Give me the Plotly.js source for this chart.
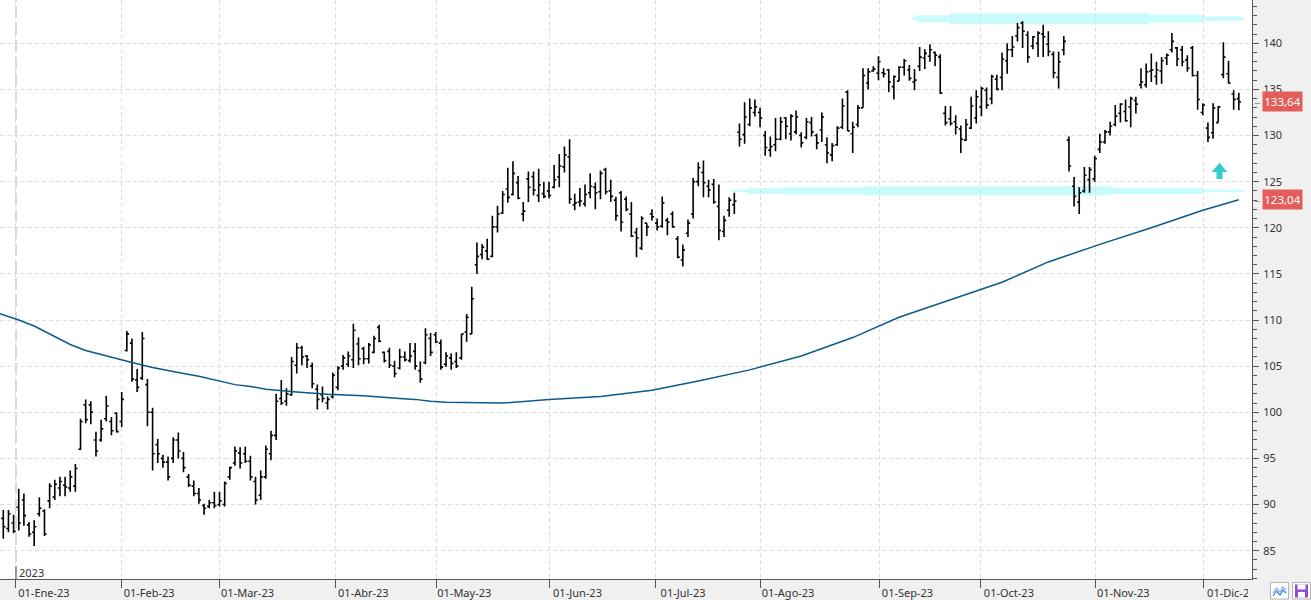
<!DOCTYPE html>
<html><head><meta charset="utf-8">
<script src="https://cdn.plot.ly/plotly-3.0.1.min.js"></script>
<style>html,body{margin:0;padding:0;background:#f0f0f0;overflow:hidden}#chart{width:1311px;height:600px}</style>
</head><body><div id="chart"></div>
<script>
// Daily bars (index 0 = 28-Dic-22 ... index 240 = 12-Dic-23)
const openP = [88.5,87.4,88.0,89.7,90.5,87.8,87.0,89.0,89.3,90.4,90.8,91.8,92.1,91.8,92.0,96.0,100.8,100.8,97.0,97.0,99.3,99.0,99.9,99.0,106.7,107.5,103.5,103.7,103.0,100.0,
96.5,95.0,94.6,95.0,97.0,95.0,93.0,92.0,91.2,89.9,89.8,90.2,90.0,90.0,93.0,94.5,95.6,95.5,94.7,92.5,91.0,93.0,95.5,97.5,101.5,101.2,101.9,105.1,107.0,106.1,
105.0,102.5,101.9,101.0,101.7,102.7,105.0,105.2,105.7,107.4,106.9,105.8,106.5,109.2,106.5,106.6,105.0,104.8,106.0,105.6,106.6,104.5,105.4,108.0,108.4,107.5,105.2,105.9,105.5,105.9,
108.7,108.5,116.0,117.1,117.5,116.9,120.1,121.6,124.2,123.6,124.9,121.5,125.3,125.55,123.5,123.7,124.0,124.4,125.5,126.6,127.7,122.5,122.8,122.6,123.8,124.4,123.9,126.3,124.0,123.0,
123.8,123.1,121.5,119.5,117.8,120.5,121.5,120.5,120.2,120.8,121.5,118.8,116.5,119.4,121.5,125.0,126.0,124.5,124.7,122.3,119.6,121.9,122.5,130.35,130.1,131.2,132.5,132.5,130.0,128.4,
129.0,129.6,131.9,130.2,130.4,130.0,129.8,131.4,130.0,130.6,129.0,127.9,129.0,130.9,134.7,130.2,131.2,133.0,135.7,137.0,136.75,136.8,137.1,135.3,135.9,137.4,137.1,135.8,137.5,138.4,
138.6,139.0,138.5,132.4,131.8,131.5,130.7,129.5,130.8,131.9,133.1,134.9,134.0,136.1,136.3,138.1,139.3,140.8,142.2,140.9,139.7,140.0,141.0,139.9,138.8,136.3,139.3,129.5,124.5,122.8,
124.0,125.2,125.3,128.5,129.3,130.4,131.2,132.4,132.6,133.1,133.8,135.5,135.5,137.0,136.4,137.0,138.4,139.3,139.5,139.3,138.2,139.5,136.5,132.5,130.8,130.3,131.4,136.6,136.7,134.5,
134.0];
const highP = [89.4,89.4,88.9,91.7,91.2,88.1,88.3,90.8,89.5,92.3,92.7,93.0,93.0,93.7,94.4,99.3,101.4,101.2,97.9,99.2,101.8,99.5,100.0,102.2,108.8,108.0,104.7,108.7,103.6,100.5,
97.1,95.4,95.2,97.3,97.8,95.7,93.3,92.6,91.8,90.1,90.5,91.4,91.4,92.5,94.1,96.3,96.2,96.3,95.3,93.0,93.7,96.4,98.0,102.0,103.5,102.6,106.0,107.5,107.2,106.2,
105.4,103.0,102.8,101.7,104.3,105.0,106.2,106.6,109.6,108.1,107.1,107.5,108.3,109.5,106.6,107.0,105.6,106.9,106.6,107.5,107.5,105.5,109.1,108.6,108.7,107.9,106.5,106.4,106.5,108.5,
110.65,113.6,118.4,118.25,118.8,121.3,122.4,124.0,126.5,127.2,125.6,122.8,126.1,126.1,126.4,125.0,125.0,126.8,128.0,128.8,129.6,123.7,124.3,124.7,125.9,124.9,126.2,126.5,125.2,123.35,
124.0,123.4,122.8,120.0,121.25,120.5,122.0,121.0,123.4,121.1,121.8,119.1,118.2,120.9,125.4,127.1,127.3,125.2,125.3,124.7,121.3,123.3,123.8,131.3,133.6,134.0,133.9,133.0,130.5,129.9,
131.9,132.0,132.0,132.3,132.7,130.35,131.9,132.0,130.2,132.5,129.8,129.2,131.0,134.0,134.9,131.5,133.3,137.3,137.3,137.5,138.6,137.3,137.2,136.5,137.5,138.3,137.65,137.2,139.6,139.35,
139.9,139.1,138.8,133.2,133.2,132.2,131.1,131.8,134.2,134.9,135.3,135.2,136.6,136.6,139.0,140.0,140.8,142.2,142.4,141.3,140.8,141.3,142.0,141.3,139.1,139.1,140.8,129.9,125.5,124.4,
126.6,126.6,127.8,130.2,130.6,131.5,133.3,133.5,133.9,134.2,134.2,137.3,137.8,138.9,138.0,138.5,138.9,141.1,139.6,139.7,138.7,139.7,137.0,133.5,131.4,133.5,133.2,140.1,138.1,134.9,
134.65];
const lowP = [86.3,87.0,86.9,87.2,87.7,86.5,85.5,88.7,86.6,89.6,90.5,90.9,90.9,91.4,91.4,95.9,98.8,98.7,95.2,96.8,99.0,97.5,97.8,98.4,106.6,103.3,102.2,103.5,98.5,93.7,
94.5,94.0,92.6,94.5,95.0,93.5,91.9,90.9,90.1,88.9,89.6,89.6,89.8,89.8,92.7,94.2,93.9,94.5,92.6,90.0,90.5,92.8,94.8,97.0,100.8,100.7,101.8,104.2,105.1,104.8,
102.6,100.3,101.1,100.3,101.5,102.4,104.6,104.9,104.8,105.1,105.2,105.3,106.4,107.6,105.4,104.8,103.8,104.65,105.5,105.4,104.6,103.2,105.2,106.1,107.5,104.6,104.9,104.6,104.8,105.7,
107.65,108.5,115.0,116.6,116.5,116.8,119.5,121.5,122.7,123.5,123.1,120.7,122.8,123.5,122.8,123.2,123.2,124.25,124.4,126.0,122.6,121.9,122.3,122.3,123.2,122.0,123.1,123.6,122.8,120.75,
119.6,121.8,119.0,116.8,117.6,119.1,120.8,119.7,120.0,119.2,120.0,116.7,115.8,119.0,121.0,124.5,123.3,123.3,122.6,118.65,119.0,121.2,121.5,128.8,129.1,131.0,132.05,130.9,127.8,127.7,
128.3,129.5,129.6,129.45,130.1,128.7,129.6,129.9,128.5,129.3,127.0,127.2,128.9,130.7,130.5,128.1,130.9,133.0,135.0,136.9,136.0,136.3,134.7,133.9,135.9,136.5,135.95,134.9,137.0,137.2,
138.0,137.5,134.5,131.1,131.1,130.1,128.1,129.4,130.7,131.3,132.1,132.9,133.4,134.9,134.9,136.7,138.5,140.2,139.5,137.9,139.35,138.5,138.5,138.6,136.2,135.1,138.7,126.1,122.3,121.5,
123.8,123.8,125.0,128.1,129.1,130.0,131.0,131.4,131.5,130.9,132.4,135.1,135.2,135.8,135.5,135.6,137.65,139.0,137.5,137.5,136.9,136.4,132.8,132.2,129.3,129.65,131.4,136.2,135.6,132.8,
132.75];
const closeP = [87.6,89.0,87.1,88.0,88.8,86.8,87.6,89.6,86.8,92.0,92.2,92.5,91.9,93.0,93.9,99.0,99.2,100.0,95.8,98.2,100.7,98.0,97.9,101.4,108.5,103.6,102.7,108.0,100.0,95.5,
95.5,94.6,93.0,97.0,95.8,94.0,92.1,91.2,90.5,89.6,90.2,89.9,90.4,92.3,94.0,95.8,94.5,94.7,93.0,90.5,93.0,96.0,97.5,101.2,101.0,102.0,105.5,107.0,106.0,105.7,
103.1,101.4,101.5,101.4,104.0,104.8,105.9,106.1,108.9,105.8,105.8,107.3,108.0,107.7,105.6,105.1,104.2,106.0,105.7,106.1,105.0,103.6,108.4,106.5,107.65,104.9,106.1,105.3,105.0,108.5,
110.3,112.3,116.9,117.9,116.6,120.1,121.5,123.6,123.3,125.9,123.2,121.8,124.4,124.1,124.65,123.4,123.5,125.2,126.7,127.9,123.1,122.7,122.9,123.6,124.5,123.8,125.9,123.9,123.4,121.3,
120.6,122.0,119.1,118.9,121.0,120.1,121.2,120.1,122.7,120.6,120.1,116.8,117.6,120.5,125.0,126.5,124.9,124.1,122.8,119.7,120.8,123.0,122.9,129.6,132.0,133.0,133.1,131.9,128.7,128.8,
129.6,131.5,131.0,132.1,132.0,129.2,131.5,130.4,129.2,132.0,128.1,128.9,130.8,133.2,130.5,130.9,133.0,136.5,136.9,137.2,138.0,136.7,135.8,136.4,137.4,138.1,136.2,136.0,138.5,138.9,
139.3,138.7,134.6,131.4,131.3,130.9,129.6,131.2,133.2,134.2,135.1,133.3,136.4,135.0,138.3,139.3,139.6,141.7,141.3,138.5,140.7,141.1,140.7,139.1,136.8,138.0,140.2,126.7,123.4,123.8,
125.7,126.3,127.5,129.3,130.4,131.0,132.1,133.4,131.6,134.0,133.4,135.8,136.9,137.1,137.1,138.1,138.7,140.2,138.3,138.0,137.3,136.5,133.9,133.3,129.8,133.0,133.1,138.5,135.7,133.9,
133.64];
const barIdx = openP.map((_, i) => i);

// 200-session moving average (sampled by bar index)
const maIdx = [-1,3,6,10,13,16,19,22,25,29,32,35,38,42,45,48,51,57,63,70,74,77,80,83,86,90,93,97,106,116,126,135,145,155,165,174,184,194,203,213,223,233,240];
const maVal = [110.75,110.0,109.35,108.25,107.35,106.7,106.25,105.8,105.4,104.85,104.5,104.2,103.9,103.35,103.0,102.8,102.5,102.2,101.95,101.8,101.6,101.5,101.4,101.2,101.1,101.04,101.0,101.0,101.4,101.7,102.4,103.4,104.6,106.1,108.1,110.3,112.2,114.1,116.3,118.2,120.0,121.9,123.04];

// Month ticks (position in bar index) and labels
const monthTickIdx = [2.46,22.9,42.0,64.5,84.1,106.1,126.6,147.0,170.2,189.9,212.1,233.1];
const monthTickText = ['01-Ene-23','01-Feb-23','01-Mar-23','01-Abr-23','01-May-23','01-Jun-23','01-Jul-23','01-Ago-23','01-Sep-23','01-Oct-23','01-Nov-23','01-Dic-23'];
const yearLabel = '2023';
const lastCloseLabel = '133,64', lastClose = 133.64;
const lastMALabel = '123,04', lastMA = 123.04;
const resistanceLevel = 142.67, supportLevel = 124.0;

// ---- geometry helpers (layout only)
const PW = 1252, PH = 579;
const px = p => p / PW;             // pixel x -> paper
const py = p => (PH - p) / PH;      // pixel y -> paper

function bandPath(level, profile) {
  const top = profile.map(([x, h]) => `${x},${level + h}`);
  const bot = profile.slice().reverse().map(([x, h]) => `${x},${level - h}`);
  return 'M' + top.join('L') + 'L' + bot.join('L') + 'Z';
}
const topProfile = [[176.1,0],[177.7,0.3],[177.7,0.38],[183.9,0.38],[183.9,0.58],[222.7,0.58],[222.7,0.42],[233,0.42],[233,0.22],[240.2,0.22],[241.4,0]];
const botProfile = [[141,0],[142.1,0.16],[144.7,0.16],[144.7,0.3],[151.8,0.3],[151.8,0.38],[167.2,0.38],[167.2,0.49],[215,0.49],[215,0.33],[233,0.33],[233,0.16],[240.2,0.16],[241.4,0]];

const arrowX = 236.25, arrowTop = 127.06, arrowMid = 126.05, arrowBot = 125.29, headW = 1.515, stemW = 0.583;
const arrowPath = `M${arrowX},${arrowTop}L${arrowX+headW},${arrowMid}L${arrowX+stemW},${arrowMid}L${arrowX+stemW},${arrowBot}L${arrowX-stemW},${arrowBot}L${arrowX-stemW},${arrowMid}L${arrowX-headW},${arrowMid}Z`;

const FONT = '"Noto Sans", "Open Sans", sans-serif';
const cyan = '#c9fbfd';

const traces = [
  {type:'scatter', mode:'lines', x: maIdx, y: maVal, line:{color:'#0b5a8c', width:1.5}, hoverinfo:'skip', showlegend:false},
  {type:'ohlc', x: barIdx, open: openP, high: highP, low: lowP, close: closeP,
   increasing:{line:{color:'#000000', width:1.6}}, decreasing:{line:{color:'#000000', width:1.6}},
   tickwidth:0.42, hoverinfo:'skip', showlegend:false}
];

const shapes = [
  {type:'path', path: bandPath(resistanceLevel, topProfile), xref:'x', yref:'y', fillcolor:cyan, line:{width:0}, layer:'below'},
  {type:'path', path: bandPath(supportLevel, botProfile), xref:'x', yref:'y', fillcolor:cyan, line:{width:0}, layer:'below'},
  {type:'line', xref:'x', yref:'paper', x0:monthTickIdx[0], x1:monthTickIdx[0], y0:0, y1:1, line:{color:'#c8c8c8', width:1.5, dash:'12px,5px'}, layer:'below'},
  {type:'line', xref:'x', yref:'paper', x0:monthTickIdx[0], x1:monthTickIdx[0], y0:0, y1:py(566), line:{color:'#555555', width:1}, layer:'above'},
  {type:'path', path: arrowPath, xref:'x', yref:'y', fillcolor:'#33cccc', line:{width:0}, layer:'above'},
  // cover the tail of the last date label (as in the source)
  {type:'rect', xref:'paper', yref:'paper', x0:px(1248), x1:px(1320), y0:py(580), y1:py(602), fillcolor:'#f0f0f0', line:{width:0}, layer:'above'},
  // toolbar icons
  {type:'rect', xref:'paper', yref:'paper', x0:px(1270.5), x1:px(1288.5), y0:py(582.5), y1:py(599), fillcolor:'#ffffff', line:{color:'#b4b4b4', width:1}, layer:'above'},
  {type:'path', xref:'paper', yref:'paper', path:`M${px(1273)},${py(593)}L${px(1276.5)},${py(588)}L${px(1280)},${py(592)}L${px(1283)},${py(587)}L${px(1286)},${py(590)}`, line:{color:'#7fb2ea', width:1.2}, layer:'above'},
  {type:'path', xref:'paper', yref:'paper', path:`M${px(1273)},${py(596)}L${px(1276.5)},${py(591)}L${px(1280)},${py(595)}L${px(1283)},${py(590)}L${px(1286)},${py(593)}`, line:{color:'#3b7dd8', width:1.2}, layer:'above'},
  {type:'rect', xref:'paper', yref:'paper', x0:px(1292.5), x1:px(1310.5), y0:py(582.5), y1:py(599), fillcolor:'#ffffff', line:{color:'#b4b4b4', width:1}, layer:'above'},
  {type:'rect', xref:'paper', yref:'paper', x0:px(1295), x1:px(1308), y0:py(584.5), y1:py(597.5), fillcolor:'#8a4fd0', line:{width:0}, layer:'above'},
  {type:'rect', xref:'paper', yref:'paper', x0:px(1297.5), x1:px(1305.5), y0:py(584.5), y1:py(589.5), fillcolor:'#ffffff', line:{width:0}, layer:'above'},
  {type:'rect', xref:'paper', yref:'paper', x0:px(1298), x1:px(1305), y0:py(592), y1:py(597.5), fillcolor:'#ffffff', line:{width:0}, layer:'above'}
];

const annotations = [
  {xref:'x', yref:'paper', x:monthTickIdx[0], xanchor:'left', xshift:1, y:py(572), yanchor:'middle', text:yearLabel, showarrow:false, font:{family:FONT, size:11, color:'#333333'}},
  {xref:'paper', yref:'y', x:px(1261.7), xanchor:'left', y:lastClose, yanchor:'middle', text:lastCloseLabel, showarrow:false,
   bgcolor:'#e35d5b', width:35, height:15, borderpad:2, font:{family:FONT, size:11.5, color:'#ffffff'}},
  {xref:'paper', yref:'y', x:px(1261.7), xanchor:'left', y:lastMA, yanchor:'middle', text:lastMALabel, showarrow:false,
   bgcolor:'#e35d5b', width:35, height:15, borderpad:2, font:{family:FONT, size:11.5, color:'#ffffff'}},
  {xref:'paper', yref:'y', x:px(1257), xanchor:'center', y:lastClose, yanchor:'middle', text:'←', showarrow:false, font:{family:FONT, size:9, color:'#666666'}},
  {xref:'paper', yref:'y', x:px(1257), xanchor:'center', y:lastMA, yanchor:'middle', text:'←', showarrow:false, font:{family:FONT, size:9, color:'#666666'}},
  {xref:'paper', yref:'y', x:px(1262), xanchor:'left', y:145, yanchor:'middle', text:'145', showarrow:false, font:{family:FONT, size:11, color:'#333333'}}
];

const layout = {
  width:1311, height:600,
  margin:{l:0, r:59, t:0, b:21, pad:0},
  paper_bgcolor:'#f0f0f0', plot_bgcolor:'#ffffff',
  showlegend:false,
  font:{family:FONT, size:11, color:'#333333'},
  xaxis:{
    type:'linear', range:[-0.641, 242.56], autorange:false, fixedrange:true,
    rangeslider:{visible:false},
    tickmode:'array', tickvals:monthTickIdx, ticktext:monthTickText,
    ticks:'outside', ticklen:8, tickcolor:'#555555', tickwidth:1,
    ticklabelshift:28, ticklabelstandoff:-4,
    showgrid:true, gridcolor:'#dcdcdc', griddash:'4px,3px', gridwidth:1,
    showline:true, linecolor:'#555555', linewidth:1, zeroline:false,
    tickfont:{family:FONT, size:11, color:'#333333'}, automargin:false
  },
  yaxis:{
    side:'right', range:[81.93, 144.69], autorange:false, fixedrange:true,
    tickmode:'linear', tick0:85, dtick:5,
    ticks:'outside', ticklen:6, tickcolor:'#555555', tickwidth:1,
    minor:{dtick:1, tick0:85, ticks:'outside', ticklen:3.5, tickcolor:'#555555', showgrid:false},
    showgrid:true, gridcolor:'#dcdcdc', griddash:'4px,3px', gridwidth:1,
    showline:true, linecolor:'#555555', linewidth:1, zeroline:false,
    tickfont:{family:FONT, size:11, color:'#333333'}, automargin:false,
    ticklabelstandoff:2
  },
  shapes, annotations
};

Plotly.newPlot('chart', traces, layout, {displayModeBar:false, staticPlot:true});
</script>
</body></html>
